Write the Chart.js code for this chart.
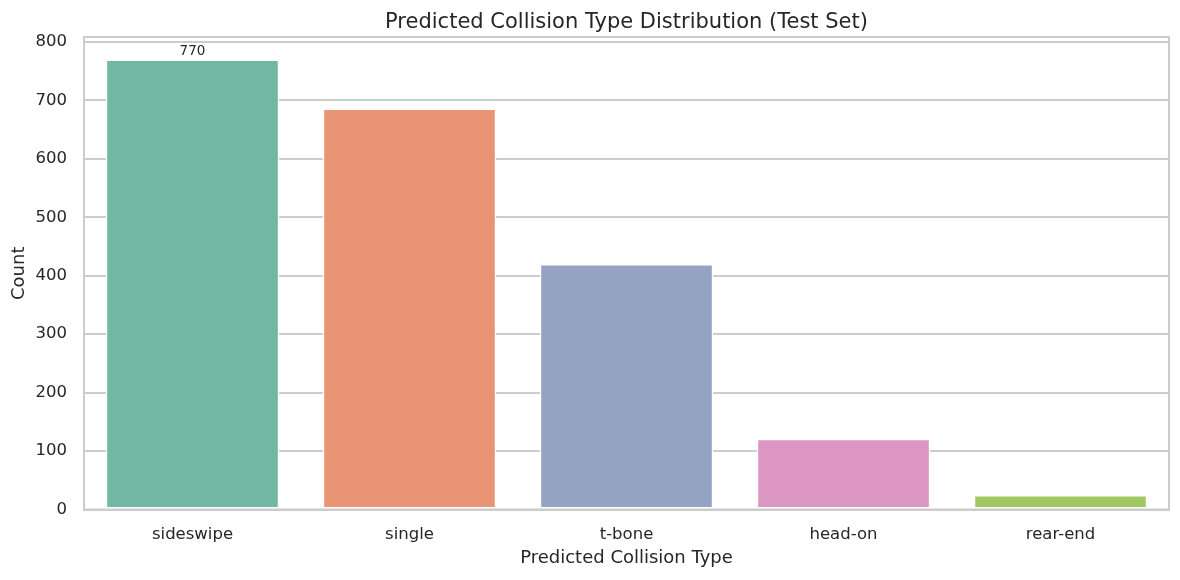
<!DOCTYPE html>
<html>
<head>
<meta charset="utf-8">
<script src="https://cdn.jsdelivr.net/npm/chart.js@4.4.1/dist/chart.umd.min.js"></script>
<style>
  html, body { margin: 0; padding: 0; background: #ffffff; }
  #wrap { width: 1180px; height: 580px; }
</style>
</head>
<body>
<div id="wrap"><canvas id="c" width="1180" height="580"></canvas></div>
<script>
const categories = ["sideswipe", "single", "t-bone", "head-on", "rear-end"];
const counts = [770, 686, 420, 121, 25];
const barColors = ["#72b7a1", "#e99575", "#95a3c3", "#db96c1", "#a2c864"];
const labelledBars = [0];
const yTickValues = [0, 100, 200, 300, 400, 500, 600, 700, 800];

const FONT = "'DejaVu Sans', sans-serif";
const TEXT = "#262626";
const GRID = "#cccccc";

const framePlugin = {
  id: "frame",
  afterDatasetsDraw(chart) {
    const { ctx, chartArea: a } = chart;
    ctx.save();
    ctx.strokeStyle = GRID;
    ctx.lineWidth = 2;
    ctx.strokeRect(a.left, a.top, a.right - a.left, a.bottom - a.top);
    ctx.restore();
  }
};

const valueLabelPlugin = {
  id: "valueLabels",
  afterDatasetsDraw(chart) {
    const { ctx } = chart;
    const meta = chart.getDatasetMeta(0);
    ctx.save();
    ctx.fillStyle = TEXT;
    ctx.font = "13.5px " + FONT;
    ctx.textAlign = "center";
    ctx.textBaseline = "bottom";
    labelledBars.forEach(i => {
      const el = meta.data[i];
      ctx.fillText(String(counts[i]), el.x, el.y - 1);
    });
    ctx.restore();
  }
};

new Chart(document.getElementById("c"), {
  type: "bar",
  data: {
    labels: categories,
    datasets: [{
      data: counts,
      backgroundColor: barColors,
      borderColor: "#ffffff",
      borderWidth: 1.5,
      borderSkipped: false,
      barPercentage: 0.8,
      categoryPercentage: 1.0
    }]
  },
  options: {
    responsive: false,
    animation: false,
    devicePixelRatio: 1,
    layout: { padding: { top: 0, left: 0, right: 11, bottom: 0 } },
    plugins: {
      legend: { display: false },
      tooltip: { enabled: false },
      title: {
        display: true,
        fullSize: false,
        text: "Predicted Collision Type Distribution (Test Set)",
        color: TEXT,
        font: { family: FONT, size: 21, weight: "normal" },
        padding: { top: 10, bottom: 1.8 }
      }
    },
    scales: {
      x: {
        afterFit(scale) { scale.height = 70.5; },
        grid: { display: false, drawTicks: false },
        border: { display: true, color: GRID, width: 2 },
        ticks: { color: TEXT, font: { family: FONT, size: 16.5 }, padding: 15 },
        title: {
          display: true, text: "Predicted Collision Type", color: TEXT,
          font: { family: FONT, size: 18 }, padding: { top: 0, bottom: 11 }
        }
      },
      y: {
        min: 0,
        max: Math.max(...counts) * 1.05,
        afterBuildTicks(scale) {
          scale.ticks = yTickValues.map(v => ({ value: v }));
        },
        afterFit(scale) { scale.width = 84; },
        ticks: { color: TEXT, font: { family: FONT, size: 16.5 }, padding: 17 },
        grid: { color: GRID, lineWidth: 2, drawTicks: false },
        border: { display: true, color: GRID, width: 2 },
        title: {
          display: true, text: "Count", color: TEXT,
          font: { family: FONT, size: 18 }, padding: { top: 9, bottom: 0 }
        }
      }
    }
  },
  plugins: [framePlugin, valueLabelPlugin]
});
</script>
</body>
</html>
